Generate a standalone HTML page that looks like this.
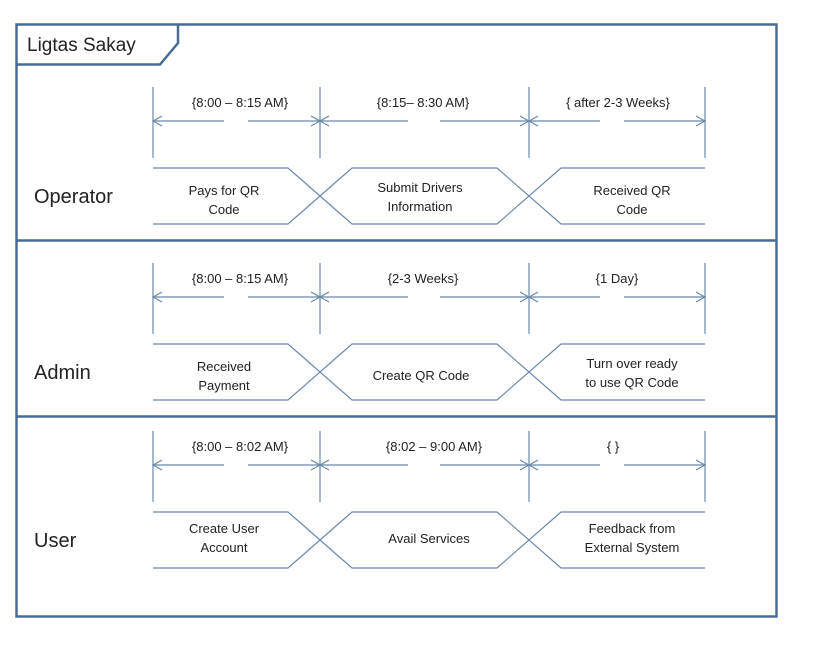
<!DOCTYPE html>
<html><head><meta charset="utf-8"><style>
html,body{margin:0;padding:0;background:#fff;}
svg{display:block;}
text{font-family:"Liberation Sans",sans-serif;fill:#222;}
.s{font-size:13px;text-anchor:middle;}
.l{font-size:20px;}
</style></head><body>
<svg width="834" height="661" viewBox="0 0 834 661" xmlns="http://www.w3.org/2000/svg">
<rect width="834" height="661" fill="#fff"/>
<g fill="none" stroke="#4a6d94" stroke-width="2.5">
<rect x="16.5" y="24.5" width="760" height="592"/>
<path d="M16.5 64.5 H160 L178 43 V24.5"/>
<line x1="16" y1="240.5" x2="777" y2="240.5"/>
<line x1="16" y1="416.5" x2="777" y2="416.5"/>
</g>
<text x="27" y="51" style="font-size:19px">Ligtas Sakay</text>

<defs>
<g id="lane" fill="none" stroke="#6b88aa" stroke-width="1.2">
<line x1="153" y1="87" x2="153" y2="158"/>
<line x1="320" y1="87" x2="320" y2="158"/>
<line x1="529" y1="87" x2="529" y2="158"/>
<line x1="705" y1="87" x2="705" y2="158"/>
<line x1="153" y1="121" x2="224" y2="121"/>
<line x1="248" y1="121" x2="320" y2="121"/>
<line x1="320" y1="121" x2="408" y2="121"/>
<line x1="440" y1="121" x2="529" y2="121"/>
<line x1="529" y1="121" x2="600" y2="121"/>
<line x1="624" y1="121" x2="705" y2="121"/>
<path d="M162 116 L153 121 L162 126 M311 116 L320 121 L311 126 M329 116 L320 121 L329 126 M520 116 L529 121 L520 126 M538 116 L529 121 L538 126 M696 116 L705 121 L696 126"/>
<path d="M153 168 H288 L352 224 H497 L561 168 H705"/>
<path d="M153 224 H288 L352 168 H497 L561 224 H705"/>
</g>
</defs>

<use href="#lane"/>
<use href="#lane" transform="translate(0,176)"/>
<use href="#lane" transform="translate(0,344)"/>

<!-- Operator -->
<text class="l" x="34" y="203">Operator</text>
<text class="s" x="240" y="107">{8:00 – 8:15 AM}</text>
<text class="s" x="423" y="107">{8:15– 8:30 AM}</text>
<text class="s" x="618" y="107">{ after 2-3 Weeks}</text>
<text class="s" x="224" y="195">Pays for QR</text>
<text class="s" x="224" y="214">Code</text>
<text class="s" x="420" y="192">Submit Drivers</text>
<text class="s" x="420" y="211">Information</text>
<text class="s" x="632" y="195">Received QR</text>
<text class="s" x="632" y="214">Code</text>

<!-- Admin -->
<text class="l" x="34" y="379">Admin</text>
<text class="s" x="240" y="283">{8:00 – 8:15 AM}</text>
<text class="s" x="423" y="283">{2-3 Weeks}</text>
<text class="s" x="617" y="283">{1 Day}</text>
<text class="s" x="224" y="371">Received</text>
<text class="s" x="224" y="390">Payment</text>
<text class="s" x="421" y="380">Create QR Code</text>
<text class="s" x="632" y="368">Turn over ready</text>
<text class="s" x="632" y="387">to use QR Code</text>

<!-- User -->
<text class="l" x="34" y="547">User</text>
<text class="s" x="240" y="451">{8:00 – 8:02 AM}</text>
<text class="s" x="434" y="451">{8:02 – 9:00 AM}</text>
<text class="s" x="613" y="451">{ }</text>
<text class="s" x="224" y="533">Create User</text>
<text class="s" x="224" y="552">Account</text>
<text class="s" x="429" y="543">Avail Services</text>
<text class="s" x="632" y="533">Feedback from</text>
<text class="s" x="632" y="552">External System</text>
</svg>
</body></html>
